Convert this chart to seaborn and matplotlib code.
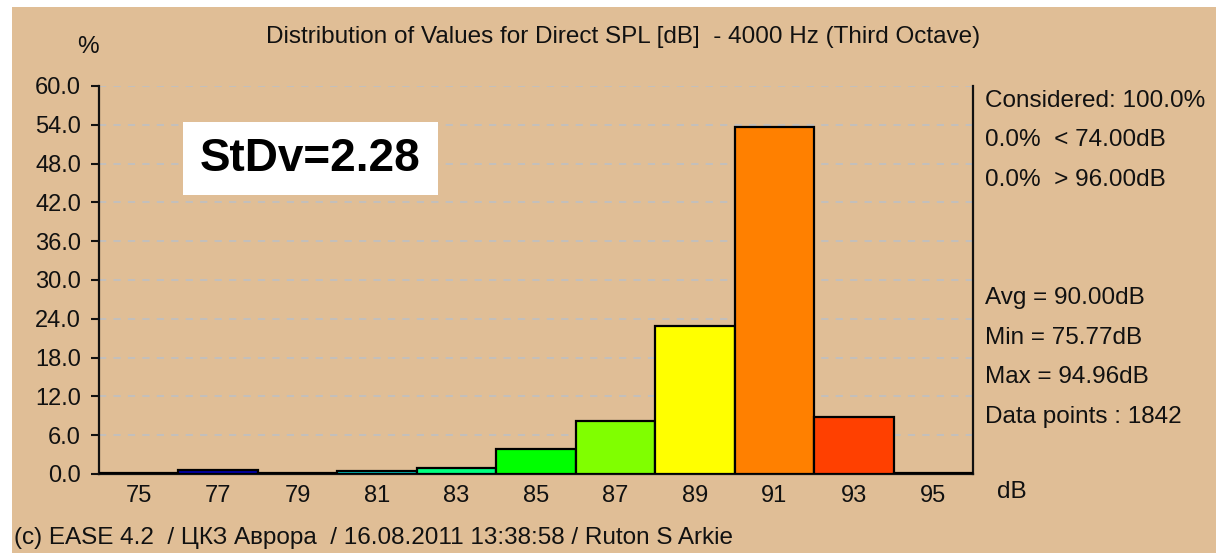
import numpy as np
import pandas as pd
import matplotlib
matplotlib.use("Agg")
import matplotlib.pyplot as plt
import seaborn as sns
from matplotlib.patches import Rectangle

# histogram data (percent of data points per 2 dB bin)
bin_centers = [75, 77, 79, 81, 83, 85, 87, 89, 91, 93, 95]
percent = [0.15, 0.6, 0.15, 0.45, 1.0, 3.9, 8.2, 22.9, 53.7, 8.8, 0.15]
bar_colors = ["#1a0000", "#0000a8", "#100030", "#00c8c8", "#00ff80", "#00ff00",
              "#80ff00", "#ffff00", "#ff8000", "#ff4000", "#200000"]
y_ticks = [0, 6, 12, 18, 24, 30, 36, 42, 48, 54, 60]

title = "Distribution of Values for Direct SPL [dB]  - 4000 Hz (Third Octave)"
stats_top = ["Considered: 100.0%", "0.0%  < 74.00dB", "0.0%  > 96.00dB"]
stats_bottom = ["Avg = 90.00dB", "Min = 75.77dB", "Max = 94.96dB", "Data points : 1842"]
footer = "(c) EASE 4.2  / ЦКЗ Аврора  / 16.08.2011 13:38:58 / Ruton S Arkie"
stdv = "StDv=2.28"

sns.set_style("white")
plt.rcParams['font.family'] = ['Liberation Sans', 'DejaVu Sans']

bg = "#e0be96"
txt = "#111111"
fs = 17.5
df = pd.DataFrame({"bin": bin_centers, "pct": percent})

fig = plt.figure(figsize=(12.16, 5.53), dpi=100, facecolor="white")
fig.patches.append(Rectangle((12 / 1216, 0), 1, 1 - 7 / 553, transform=fig.transFigure,
                             facecolor=bg, edgecolor="none", zorder=-10))
ax = fig.add_axes([99 / 1216, 1 - 474 / 553, 874 / 1216, 388 / 553])
ax.set_facecolor(bg)

sns.barplot(data=df, x="bin", y="pct", hue="bin", native_scale=True, dodge=False,
            palette=dict(zip(bin_centers, bar_colors)), width=1, legend=False,
            saturation=1, edgecolor="black", linewidth=1.6, ax=ax, zorder=3)

ax.set_xlim(74, 96)
ax.set_ylim(0, 60)
ax.set_xticks(bin_centers)
ax.set_xticklabels([str(b) for b in bin_centers])
ax.set_yticks(y_ticks)
ax.set_yticklabels([f"{t:.1f}" for t in y_ticks])
ax.set_xlabel("")
ax.set_ylabel("")
ax.tick_params(axis="x", length=0, pad=8, labelsize=17, colors=txt)
ax.tick_params(axis="y", length=6, width=1.5, pad=7, labelsize=17, direction="out",
               left=True, colors=txt)
ax.yaxis.grid(True, color="#c0c0c0", linestyle=(0, (4, 4)), linewidth=1.3, zorder=0)
ax.set_axisbelow(True)

for side in ["left", "bottom", "right"]:
    ax.spines[side].set_visible(True)
    ax.spines[side].set_color(txt)
    ax.spines[side].set_linewidth(1.6)
ax.spines["top"].set_visible(False)

fig.text(623 / 1216, 1 - 37 / 553, title, ha="center", va="center", fontsize=fs, color=txt)
fig.text(88 / 1216, 1 - 47 / 553, "%", ha="center", va="center", fontsize=fs, color=txt)
fig.text(1012 / 1216, 1 - 492 / 553, "dB", ha="center", va="center", fontsize=fs, color=txt)

for i, s in enumerate(stats_top):
    fig.text(985 / 1216, 1 - (101 + 39.5 * i) / 553, s, ha="left", va="center",
             fontsize=fs, color=txt)
for i, s in enumerate(stats_bottom):
    fig.text(985 / 1216, 1 - (298 + 39.5 * i) / 553, s, ha="left", va="center",
             fontsize=fs, color=txt)

fig.text(14 / 1216, 1 - 538 / 553, footer, ha="left", va="center", fontsize=fs, color=txt)

fig.patches.append(Rectangle((183 / 1216, 1 - 195 / 553), 255 / 1216, 73 / 553,
                             transform=fig.transFigure, facecolor="white",
                             edgecolor="none", zorder=5))
fig.text(310 / 1216, 1 - 159 / 553, stdv, ha="center", va="center", fontsize=33,
         fontweight="bold", color="black", zorder=6)

fig.savefig("out.png", dpi=100, facecolor=fig.get_facecolor())
